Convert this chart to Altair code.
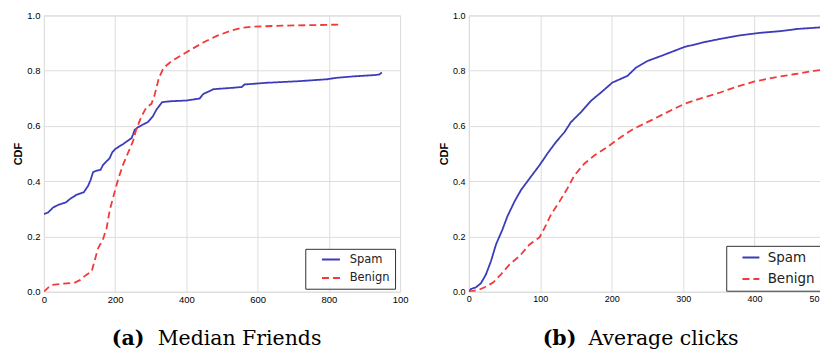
import altair as alt
import pandas as pd

series_names = ["Spam", "Benign"]
series_colors = ["#3c3cba", "#f23a3a"]
series_dashes = [[1, 0], [7, 4]]

# (a) Median Friends
a_spam_x = [0, 12, 26, 40, 63, 68, 77, 92, 105, 112, 124, 131, 138, 148, 159, 166, 176, 185, 192, 202,
            222, 246, 250, 255, 264, 278, 292, 306, 316, 332, 353, 400, 437, 442, 448, 465, 476, 530,
            556, 563, 624, 717, 796, 820, 866, 927, 941, 949]
a_spam_y = [0.281, 0.287, 0.305, 0.314, 0.324, 0.330, 0.339, 0.351, 0.357, 0.360, 0.383, 0.404, 0.433,
            0.438, 0.441, 0.459, 0.472, 0.484, 0.505, 0.518, 0.534, 0.556, 0.568, 0.586, 0.595, 0.605,
            0.614, 0.635, 0.659, 0.686, 0.689, 0.692, 0.699, 0.707, 0.716, 0.726, 0.733, 0.738, 0.741,
            0.750, 0.756, 0.762, 0.769, 0.774, 0.779, 0.784, 0.786, 0.793]
a_benign_x = [0, 12, 21, 54, 87, 101, 118, 134, 143, 152, 166, 176, 185, 194, 208, 222, 236, 250, 259,
              274, 288, 302, 311, 323, 336, 358, 386, 414, 446, 484, 521, 554, 586, 670, 764, 835]
a_benign_y = [0.0, 0.015, 0.024, 0.029, 0.033, 0.042, 0.060, 0.073, 0.115, 0.157, 0.190, 0.230, 0.296,
              0.339, 0.405, 0.459, 0.502, 0.544, 0.586, 0.635, 0.667, 0.680, 0.713, 0.774, 0.810, 0.834,
              0.856, 0.877, 0.901, 0.925, 0.943, 0.955, 0.959, 0.963, 0.965, 0.967]

# (b) Average clicks
b_spam_x = [0, 3, 10, 17, 24, 31, 38, 47, 54, 64, 73, 85, 99, 110, 122, 134, 143, 157, 171, 185, 201,
            222, 234, 250, 269, 287, 301, 329, 352, 380, 408, 436, 460, 483, 500]
b_spam_y = [0.0, 0.010, 0.016, 0.031, 0.063, 0.111, 0.171, 0.225, 0.273, 0.327, 0.368, 0.410, 0.458,
            0.500, 0.542, 0.578, 0.614, 0.650, 0.691, 0.721, 0.757, 0.781, 0.811, 0.835, 0.853, 0.871,
            0.885, 0.903, 0.915, 0.928, 0.937, 0.943, 0.951, 0.955, 0.958]
b_benign_x = [0, 13, 22, 34, 45, 57, 71, 85, 99, 106, 115, 127, 138, 148, 162, 176, 194, 213, 231, 255,
              278, 301, 325, 352, 376, 399, 427, 455, 483, 500]
b_benign_y = [0.0, 0.006, 0.016, 0.033, 0.063, 0.099, 0.129, 0.171, 0.197, 0.231, 0.279, 0.327, 0.374,
              0.422, 0.464, 0.494, 0.524, 0.560, 0.590, 0.620, 0.650, 0.679, 0.700, 0.721, 0.743, 0.760,
              0.775, 0.787, 0.799, 0.805]

a_xticks = [0, 200, 400, 600, 800, 1000]
b_xticks = [0, 100, 200, 300, 400, 500]
y_ticks = [0.0, 0.2, 0.4, 0.6, 0.8, 1.0]
caption_letters = ["(a)", "(b)"]
caption_titles = ["Median Friends", "Average clicks"]

PLOT_H = 277
CAP_Y = 330


def frame(sx, sy, bx, by):
    return pd.DataFrame({
        "x": sx + bx,
        "cdf": sy + by,
        "series": [series_names[0]] * len(sx) + [series_names[1]] * len(bx),
    })


def panel(df, xmax, xticks, width, label_expr, label_align, label_off, tick_fs, leg, letter, title,
          letter_x, title_x):
    legend = alt.Legend(
        title=None, orient="none", legendX=leg["lx"], legendY=leg["ly"], padding=5,
        fillColor="white", strokeColor="#333333", cornerRadius=0,
        symbolType="M-2,0L2,0", symbolSize=leg["size"], symbolStrokeWidth=2,
        symbolOffset=leg["symoff"], labelOffset=leg["laboff"],
        labelFontSize=leg["fs"], labelFont="DejaVu Sans", labelColor="#222222",
        rowPadding=leg["rowpad"], symbolFillColor="transparent",
    )
    lines = alt.Chart(df).mark_line(strokeWidth=1.8, clip=True).encode(
        x=alt.X("x:Q", scale=alt.Scale(domain=[0, xmax], nice=False, zero=True),
                axis=alt.Axis(values=xticks, title=None, grid=True, ticks=False, tickSize=0,
                              labelPadding=3, labelFontSize=tick_fs, labelFlush=False,
                              labelExpr=label_expr, labelAlign=label_align,
                              labelOffset=label_off, domain=False)),
        y=alt.Y("cdf:Q", scale=alt.Scale(domain=[0, 1], nice=False),
                axis=alt.Axis(values=y_ticks, format=".1f", title="CDF", grid=True, ticks=False,
                              tickSize=0, labelPadding=4, labelFontSize=tick_fs, titlePadding=3,
                              domain=False)),
        color=alt.Color("series:N", scale=alt.Scale(domain=series_names, range=series_colors),
                        legend=legend),
        strokeDash=alt.StrokeDash("series:N", scale=alt.Scale(domain=series_names, range=series_dashes),
                                  legend=legend),
    )
    cap_a = alt.Chart(pd.DataFrame({"t": [letter]})).mark_text(
        align="left", baseline="alphabetic", font="DejaVu Serif", fontWeight="bold",
        fontSize=20.5, color="black").encode(
        x=alt.value(letter_x), y=alt.value(CAP_Y), text="t:N")
    cap_b = alt.Chart(pd.DataFrame({"t": [title]})).mark_text(
        align="left", baseline="alphabetic", font="DejaVu Serif", fontWeight="normal",
        fontSize=20.5, color="black").encode(
        x=alt.value(title_x), y=alt.value(CAP_Y), text="t:N")
    return alt.layer(lines, cap_a, cap_b).properties(width=width, height=PLOT_H)


left = panel(frame(a_spam_x, a_spam_y, a_benign_x, a_benign_y), 1000, a_xticks, 357,
             "datum.value == 1000 ? '100' : datum.label", "center", 0, 9.5,
             {"size": 81, "symoff": 15, "laboff": 13, "fs": 11.5, "rowpad": 5.5, "lx": 262, "ly": 234},
             caption_letters[0], caption_titles[0], 68, 114)
right = panel(frame(b_spam_x, b_spam_y, b_benign_x, b_benign_y), 500, b_xticks, 358,
              "datum.value == 500 ? '50' : datum.label",
              {"condition": {"test": "datum.value == 500", "value": "right"}, "value": "center"},
              {"condition": {"test": "datum.value == 500", "value": -7}, "value": 0}, 9,
              {"size": 72, "symoff": 13, "laboff": 10, "fs": 13.5, "rowpad": 6.5, "lx": 258, "ly": 231},
              caption_letters[1], caption_titles[1], 74, 120)

chart = alt.hconcat(left, right, spacing=28).resolve_scale(
    color="independent", strokeDash="independent", x="independent", y="independent"
).resolve_legend(color="independent", strokeDash="independent").properties(
    padding={"left": 4, "top": 1, "right": -7, "bottom": 0}
).configure_view(
    stroke="#555555", strokeWidth=1
).configure_axis(
    gridColor="#a8a8a8", gridDash=[1, 2], gridWidth=1,
    labelColor="#333333", labelFont="DejaVu Sans",
    titleFont="DejaVu Sans", titleFontWeight="bold", titleFontSize=10.5, titleColor="#111111",
).configure(background="white")

chart.save("out.html", embed_options={"renderer": "svg", "actions": False})
